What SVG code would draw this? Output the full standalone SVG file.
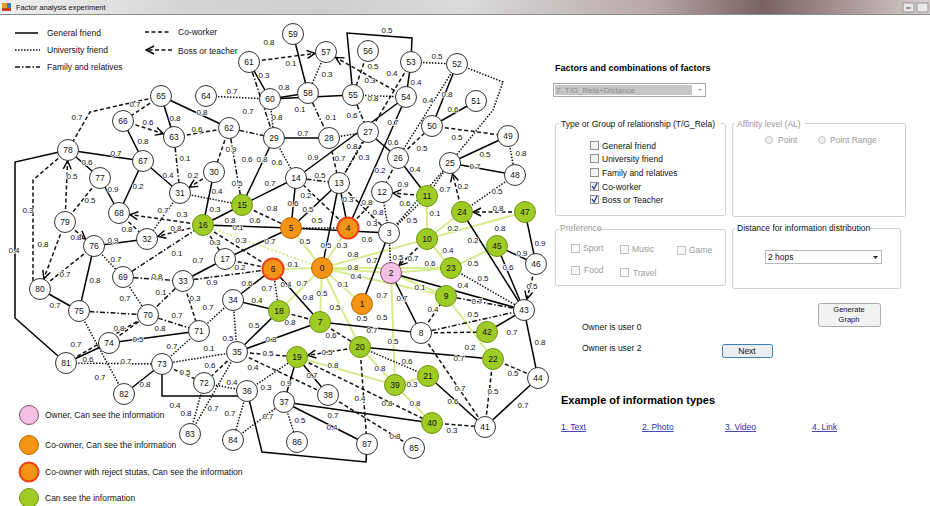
<svg xmlns="http://www.w3.org/2000/svg" width="930" height="506" viewBox="0 0 930 506">
<defs>
<linearGradient id="tb" x1="0" y1="0" x2="1" y2="0">
<stop offset="0" stop-color="#eeeeee"/><stop offset="0.08" stop-color="#e6e6e6"/><stop offset="0.2" stop-color="#d4d4d4"/><stop offset="0.35" stop-color="#cfcfcf"/><stop offset="0.5" stop-color="#dadada"/><stop offset="0.7" stop-color="#b9a8a8"/><stop offset="0.82" stop-color="#7a6262"/><stop offset="0.9" stop-color="#a58f8f"/><stop offset="1" stop-color="#d8d0d0"/>
</linearGradient>
<marker id="ar" viewBox="0 0 10 10" refX="9" refY="5" markerWidth="10" markerHeight="10" markerUnits="userSpaceOnUse" orient="auto">
<path d="M1,1 L9,5 L1,9" fill="none" stroke="#000" stroke-width="1.4" stroke-dasharray="none"/>
</marker>
<style>
.s{stroke:#000;stroke-width:1.5;fill:none}
.u{stroke:#111;stroke-width:1.5;fill:none;stroke-dasharray:1.5 1.5}
.f{stroke:#111;stroke-width:1.5;fill:none;stroke-dasharray:5 2 1.5 2}
.c{stroke:#111;stroke-width:1.5;fill:none;stroke-dasharray:4 2.5}
.b{stroke:#111;stroke-width:1.5;fill:none;stroke-dasharray:4 2.5;marker-end:url(#ar)}
.g{stroke:#d6ec8e;stroke-width:2;fill:none}
.gd{stroke:#d6ec8e;stroke-width:2;fill:none;stroke-dasharray:2 2}
.w{fill:#fff;stroke:#333;stroke-width:1}
.gr{fill:#9fcc24;stroke:#6e9414;stroke-width:1}
.o{fill:#f39414;stroke:#b86a00;stroke-width:1}
.r{fill:#f39414;stroke:#f0401a;stroke-width:2}
.p{fill:#f6c0e4;stroke:#8a4a72;stroke-width:1}
.nt{font-family:"Liberation Sans",Arial,sans-serif;font-size:8.5px;text-anchor:middle;fill:#111}
.el text{font-family:"Liberation Sans",Arial,sans-serif;font-size:8px;text-anchor:middle;fill:#111;stroke:#fff;stroke-width:1.5;paint-order:stroke}
.t{font-family:"Liberation Sans",Arial,sans-serif;font-size:8.5px;fill:#111}
.tb{font-family:"Liberation Sans",Arial,sans-serif;font-size:9px;font-weight:bold;fill:#000}
.gray{fill:#9a9a9a}
.box{fill:none;stroke:#d0d0d0;stroke-width:1}
.cb{fill:#f4f4f4;stroke:#8e8f8f;stroke-width:1}
.lk{font-family:"Liberation Sans",Arial,sans-serif;font-size:8.5px;fill:#2b2ba8;text-decoration:underline}
</style>
</defs>
<rect width="930" height="506" fill="#fff"/>
<g id="titlebar">
<rect x="0" y="0" width="930" height="14" fill="url(#tb)"/>
<line x1="0" y1="14.5" x2="930" y2="14.5" stroke="#8c8c8c"/>
<rect x="2" y="3" width="5" height="5" fill="#e8a020"/><rect x="7" y="3" width="4" height="5" fill="#3a78c8"/><rect x="2" y="8" width="9" height="3" fill="#d04020"/>
<text x="16" y="10" font-family="Liberation Sans,Arial,sans-serif" font-size="7.5" fill="#111">Factor analysis experiment</text>
<rect x="903" y="3" width="11" height="9" fill="#e8e8e8" stroke="#888" stroke-width="0.8"/>
<line x1="906" y1="8" x2="911" y2="8" stroke="#555"/>
<rect x="917" y="3" width="11" height="9" fill="#e8e8e8" stroke="#888" stroke-width="0.8"/>
</g>
<g id="legend-top">
<line x1="15" y1="33" x2="38" y2="33" class="s"/><text x="47" y="36" class="t">General friend</text>
<line x1="15" y1="50" x2="40" y2="50" class="u"/><text x="47" y="53" class="t">University friend</text>
<line x1="15" y1="67" x2="40" y2="67" class="f"/><text x="47" y="70" class="t">Family and relatives</text>
<line x1="145" y1="32" x2="170" y2="32" class="c"/><text x="178" y="35" class="t">Co-worker</text>
<line x1="172" y1="50" x2="146" y2="50" class="b"/><text x="178" y="54" class="t">Boss or teacher</text>
</g>
<g id="connectors">
<line class="g" x1="322" y1="268" x2="291" y2="228"/>
<line class="g" x1="322" y1="268" x2="348" y2="228"/>
<line class="g" x1="322" y1="268" x2="273" y2="269"/>
<line class="gd" x1="322" y1="268" x2="203" y2="225"/>
<line class="g" x1="322" y1="268" x2="279" y2="311"/>
<line class="g" x1="322" y1="268" x2="320" y2="322"/>
<line class="g" x1="322" y1="268" x2="360" y2="347"/>
<line class="g" x1="322" y1="268" x2="362" y2="304"/>
<line class="g" x1="322" y1="268" x2="391" y2="273"/>
<line class="g" x1="322" y1="268" x2="525" y2="212"/>
<line class="g" x1="322" y1="268" x2="446" y2="296"/>
<line class="g" x1="322" y1="268" x2="451" y2="268"/>
<line class="g" x1="391" y1="273" x2="395" y2="385"/>
<line class="g" x1="391" y1="273" x2="451" y2="268"/>
<line class="g" x1="391" y1="273" x2="446" y2="296"/>
<line class="g" x1="446" y1="296" x2="493" y2="359"/>
<line class="g" x1="427" y1="239" x2="427" y2="196"/>
<line class="g" x1="427" y1="239" x2="462" y2="212"/>
<line class="g" x1="427" y1="239" x2="451" y2="268"/>
<line class="g" x1="497" y1="246" x2="451" y2="268"/>
<line class="g" x1="360" y1="347" x2="395" y2="385"/>
<line class="g" x1="297" y1="357" x2="395" y2="385"/>
<line class="g" x1="395" y1="385" x2="428" y2="376"/>
<line class="g" x1="395" y1="385" x2="432" y2="423"/>
<line class="s" x1="293" y1="34" x2="308" y2="93"/>
<line class="s" x1="161" y1="96" x2="174" y2="137"/>
<line class="s" x1="161" y1="96" x2="229" y2="128"/>
<line class="s" x1="123" y1="121" x2="143" y2="161"/>
<line class="s" x1="68" y1="150" x2="143" y2="161"/>
<line class="s" x1="68" y1="150" x2="100" y2="178"/>
<line class="s" x1="100" y1="178" x2="119" y2="213"/>
<line class="s" x1="143" y1="161" x2="119" y2="213"/>
<line class="s" x1="143" y1="161" x2="180" y2="193"/>
<line class="s" x1="94" y1="246" x2="147" y2="239"/>
<line class="s" x1="94" y1="246" x2="79" y2="311"/>
<line class="s" x1="40" y1="289" x2="79" y2="311"/>
<line class="s" x1="66" y1="363" x2="109" y2="343"/>
<line class="s" x1="109" y1="343" x2="199" y2="331"/>
<line class="s" x1="162" y1="364" x2="124" y2="394"/>
<line class="s" x1="249" y1="62" x2="270" y2="99"/>
<line class="s" x1="270" y1="99" x2="308" y2="93"/>
<line class="s" x1="270" y1="99" x2="353" y2="95"/>
<line class="s" x1="274" y1="138" x2="329" y2="138"/>
<line class="s" x1="406" y1="97" x2="296" y2="178"/>
<line class="s" x1="406" y1="97" x2="348" y2="228"/>
<line class="s" x1="368" y1="132" x2="398" y2="158"/>
<line class="s" x1="432" y1="126" x2="457" y2="64"/>
<line class="s" x1="432" y1="126" x2="476" y2="101"/>
<line class="s" x1="508" y1="136" x2="450" y2="163"/>
<line class="s" x1="450" y1="163" x2="515" y2="175"/>
<line class="s" x1="427" y1="196" x2="398" y2="158"/>
<line class="s" x1="411" y1="62" x2="406" y2="97"/>
<line class="s" x1="214" y1="172" x2="203" y2="225"/>
<line class="s" x1="242" y1="205" x2="274" y2="138"/>
<line class="s" x1="242" y1="205" x2="296" y2="178"/>
<line class="s" x1="242" y1="205" x2="203" y2="225"/>
<line class="s" x1="203" y1="225" x2="291" y2="228"/>
<line class="s" x1="225" y1="259" x2="291" y2="228"/>
<line class="s" x1="233" y1="300" x2="273" y2="269"/>
<line class="s" x1="233" y1="300" x2="279" y2="311"/>
<line class="s" x1="273" y1="269" x2="320" y2="322"/>
<line class="s" x1="291" y1="228" x2="296" y2="178"/>
<line class="s" x1="291" y1="228" x2="339" y2="183"/>
<line class="s" x1="348" y1="228" x2="339" y2="183"/>
<line class="s" x1="322" y1="268" x2="339" y2="183"/>
<line class="s" x1="291" y1="228" x2="389" y2="233"/>
<line class="s" x1="389" y1="233" x2="362" y2="304"/>
<line class="s" x1="391" y1="273" x2="421" y2="333"/>
<line class="s" x1="391" y1="273" x2="524" y2="310"/>
<line class="s" x1="497" y1="246" x2="524" y2="310"/>
<line class="s" x1="462" y1="212" x2="524" y2="310"/>
<line class="s" x1="525" y1="212" x2="536" y2="264"/>
<line class="s" x1="497" y1="246" x2="536" y2="264"/>
<line class="s" x1="320" y1="322" x2="421" y2="333"/>
<line class="s" x1="360" y1="347" x2="493" y2="359"/>
<line class="s" x1="428" y1="376" x2="485" y2="427"/>
<line class="s" x1="485" y1="427" x2="538" y2="378"/>
<line class="s" x1="538" y1="378" x2="524" y2="310"/>
<line class="s" x1="487" y1="332" x2="524" y2="310"/>
<line class="s" x1="237" y1="352" x2="279" y2="311"/>
<line class="s" x1="237" y1="352" x2="320" y2="322"/>
<line class="s" x1="284" y1="402" x2="297" y2="357"/>
<line class="s" x1="284" y1="402" x2="367" y2="444"/>
<line class="s" x1="284" y1="402" x2="432" y2="423"/>
<line class="s" x1="297" y1="357" x2="328" y2="395"/>
<line class="s" x1="183" y1="281" x2="225" y2="259"/>
<polyline class="s" points="353,95 347,33 412,38 411,62"/>
<polyline class="s" points="68,150 15,162 15,318 66,363"/>
<polyline class="s" points="162,364 162,396 247,396"/>
<polyline class="s" points="247,391 262,452 366,462 367,444"/>
<line class="u" x1="326" y1="52" x2="308" y2="93"/>
<line class="u" x1="411" y1="62" x2="457" y2="64"/>
<line class="u" x1="353" y1="95" x2="406" y2="97"/>
<line class="u" x1="206" y1="96" x2="270" y2="99"/>
<line class="u" x1="270" y1="99" x2="274" y2="138"/>
<line class="u" x1="274" y1="138" x2="296" y2="178"/>
<line class="u" x1="180" y1="193" x2="242" y2="205"/>
<line class="u" x1="180" y1="193" x2="147" y2="239"/>
<line class="u" x1="94" y1="246" x2="123" y2="277"/>
<line class="u" x1="123" y1="277" x2="148" y2="315"/>
<line class="u" x1="79" y1="311" x2="124" y2="394"/>
<line class="u" x1="66" y1="363" x2="162" y2="364"/>
<line class="u" x1="162" y1="364" x2="199" y2="331"/>
<line class="u" x1="237" y1="352" x2="162" y2="364"/>
<line class="u" x1="237" y1="352" x2="233" y2="300"/>
<line class="u" x1="237" y1="352" x2="190" y2="434"/>
<line class="u" x1="204" y1="383" x2="247" y2="391"/>
<line class="u" x1="204" y1="383" x2="190" y2="434"/>
<line class="u" x1="247" y1="391" x2="233" y2="440"/>
<line class="u" x1="247" y1="391" x2="297" y2="357"/>
<line class="u" x1="233" y1="440" x2="284" y2="402"/>
<line class="u" x1="284" y1="402" x2="297" y2="442"/>
<line class="u" x1="360" y1="347" x2="428" y2="376"/>
<line class="u" x1="389" y1="233" x2="382" y2="192"/>
<line class="u" x1="389" y1="233" x2="427" y2="196"/>
<line class="u" x1="389" y1="233" x2="450" y2="163"/>
<line class="u" x1="427" y1="196" x2="450" y2="163"/>
<line class="u" x1="462" y1="212" x2="515" y2="175"/>
<line class="u" x1="508" y1="136" x2="515" y2="175"/>
<line class="u" x1="457" y1="64" x2="398" y2="158"/>
<polyline class="u" points="457,64 503,82 493,110 450,163"/>
<line class="u" x1="391" y1="273" x2="389" y2="233"/>
<line class="u" x1="451" y1="268" x2="524" y2="310"/>
<line class="u" x1="273" y1="269" x2="279" y2="311"/>
<line class="u" x1="291" y1="228" x2="348" y2="228"/>
<line class="u" x1="368" y1="132" x2="339" y2="183"/>
<line class="u" x1="329" y1="138" x2="368" y2="132"/>
<line class="u" x1="233" y1="300" x2="199" y2="331"/>
<line class="f" x1="249" y1="62" x2="274" y2="138"/>
<line class="f" x1="229" y1="128" x2="274" y2="138"/>
<line class="f" x1="353" y1="95" x2="368" y2="132"/>
<line class="f" x1="308" y1="93" x2="329" y2="138"/>
<line class="f" x1="174" y1="137" x2="180" y2="193"/>
<line class="f" x1="229" y1="128" x2="242" y2="205"/>
<line class="f" x1="123" y1="277" x2="203" y2="225"/>
<line class="f" x1="123" y1="277" x2="183" y2="281"/>
<line class="f" x1="183" y1="281" x2="148" y2="315"/>
<line class="f" x1="79" y1="311" x2="148" y2="315"/>
<line class="f" x1="148" y1="315" x2="199" y2="331"/>
<line class="f" x1="183" y1="281" x2="273" y2="269"/>
<line class="f" x1="296" y1="178" x2="339" y2="183"/>
<line class="f" x1="421" y1="333" x2="524" y2="310"/>
<line class="f" x1="446" y1="296" x2="524" y2="310"/>
<line class="f" x1="389" y1="233" x2="339" y2="183"/>
<polyline class="c" points="161,96 90,112 68,150"/>
<line class="c" x1="161" y1="96" x2="123" y2="121"/>
<line class="c" x1="174" y1="137" x2="229" y2="128"/>
<line class="c" x1="229" y1="128" x2="214" y2="172"/>
<line class="c" x1="368" y1="51" x2="353" y2="95"/>
<line class="c" x1="411" y1="62" x2="339" y2="183"/>
<polyline class="c" points="68,150 33,180 33,281 40,289"/>
<line class="c" x1="100" y1="178" x2="65" y2="222"/>
<line class="c" x1="119" y1="213" x2="147" y2="239"/>
<line class="c" x1="94" y1="246" x2="40" y2="289"/>
<line class="c" x1="66" y1="363" x2="148" y2="315"/>
<line class="c" x1="109" y1="343" x2="148" y2="315"/>
<line class="c" x1="162" y1="364" x2="204" y2="383"/>
<line class="c" x1="237" y1="352" x2="204" y2="383"/>
<line class="c" x1="237" y1="352" x2="297" y2="357"/>
<line class="c" x1="237" y1="352" x2="328" y2="395"/>
<line class="c" x1="297" y1="357" x2="432" y2="423"/>
<line class="c" x1="328" y1="395" x2="414" y2="448"/>
<line class="c" x1="360" y1="347" x2="367" y2="444"/>
<line class="c" x1="320" y1="322" x2="360" y2="347"/>
<line class="c" x1="421" y1="333" x2="485" y2="427"/>
<line class="c" x1="493" y1="359" x2="485" y2="427"/>
<line class="c" x1="432" y1="423" x2="485" y2="427"/>
<line class="c" x1="493" y1="359" x2="538" y2="378"/>
<line class="c" x1="421" y1="333" x2="487" y2="332"/>
<line class="c" x1="421" y1="333" x2="446" y2="296"/>
<line class="c" x1="242" y1="205" x2="291" y2="228"/>
<line class="c" x1="203" y1="225" x2="273" y2="269"/>
<line class="c" x1="203" y1="225" x2="225" y2="259"/>
<line class="c" x1="225" y1="259" x2="273" y2="269"/>
<line class="c" x1="279" y1="311" x2="320" y2="322"/>
<line class="c" x1="183" y1="281" x2="199" y2="331"/>
<line class="c" x1="398" y1="158" x2="432" y2="126"/>
<line class="c" x1="432" y1="126" x2="508" y2="136"/>
<line class="c" x1="348" y1="228" x2="296" y2="178"/>
<line class="c" x1="329" y1="138" x2="339" y2="183"/>
<line class="c" x1="382" y1="192" x2="348" y2="228"/>
<line class="c" x1="398" y1="158" x2="382" y2="192"/>
<line class="b" x1="249" y1="62" x2="315" y2="53.4"/>
<line class="b" x1="406" y1="97" x2="335.6" y2="57.4"/>
<line class="b" x1="123" y1="121" x2="163.5" y2="133.7"/>
<line class="b" x1="214" y1="172" x2="189.4" y2="187.2"/>
<line class="b" x1="65" y1="222" x2="67.6" y2="161"/>
<line class="b" x1="203" y1="225" x2="129.9" y2="214.6"/>
<line class="b" x1="203" y1="225" x2="157.7" y2="236.3"/>
<line class="b" x1="65" y1="222" x2="85.5" y2="239"/>
<line class="b" x1="65" y1="222" x2="43.8" y2="278.7"/>
<line class="b" x1="360" y1="347" x2="307.9" y2="355.3"/>
<line class="b" x1="427" y1="239" x2="399" y2="265.4"/>
<line class="b" x1="427" y1="196" x2="393" y2="193"/>
<line class="b" x1="462" y1="212" x2="452.6" y2="173.7"/>
<line class="b" x1="525" y1="212" x2="473" y2="212"/>
<line class="b" x1="536" y1="264" x2="526.8" y2="299.3"/>
</g>
<g id="edge-labels" class="el">
<text x="77" y="120">0.7</text><text x="135" y="107">0.7</text><text x="175" y="121">0.8</text><text x="148" y="125">0.6</text><text x="143" y="144">0.8</text><text x="116" y="156">0.7</text><text x="185" y="161">0.1</text><text x="202" y="115">0.8</text><text x="197" y="132">0.6</text><text x="231" y="152">0.9</text><text x="247" y="162">0.6</text><text x="262" y="162">0.8</text><text x="277" y="165">0.6</text>
<text x="269" y="45">0.8</text><text x="291" y="66">0.1</text><text x="327" y="77">0.3</text><text x="264" y="78">0.3</text><text x="284" y="90">0.8</text><text x="300" y="112">0.1</text><text x="232" y="94">0.7</text><text x="248" y="114">0.7</text><text x="277" y="120">0.8</text><text x="303" y="136">0.7</text><text x="331" y="120">0.1</text><text x="352" y="118">0.6</text>
<text x="387" y="33">0.5</text><text x="373" y="69">0.5</text><text x="370" y="83">0.3</text><text x="392" y="76">0.4</text><text x="416" y="85">0.4</text><text x="437" y="59">0.5</text><text x="373" y="101">0.8</text><text x="428" y="103">0.4</text><text x="447" y="97">0.8</text><text x="453" y="112">0.6</text><text x="393" y="125">0.7</text><text x="393" y="145">0.6</text><text x="422" y="151">0.5</text><text x="457" y="140">0.5</text><text x="485" y="157">0.5</text><text x="521" y="156">0.8</text><text x="475" y="169">0.7</text>
<text x="364" y="160">0.3</text><text x="352" y="149">0.8</text><text x="340" y="161">0.7</text><text x="313" y="160">0.9</text><text x="380" y="173">0.2</text><text x="415" y="172">0.4</text>
<text x="87" y="165">0.6</text><text x="72" y="179">0.5</text><text x="90" y="203">0.5</text><text x="113" y="192">0.9</text><text x="138" y="189">0.2</text><text x="168" y="178">0.4</text><text x="163" y="213">0.7</text><text x="182" y="217">0.3</text><text x="176" y="231">0.8</text><text x="127" y="232">0.8</text><text x="28" y="213">0.3</text><text x="76" y="240">0.8</text><text x="43" y="247">0.8</text><text x="113" y="243">0.9</text><text x="14" y="253">0.4</text><text x="65" y="277">0.7</text><text x="116" y="262">0.7</text><text x="177" y="256">0.1</text><text x="95" y="283">0.8</text><text x="157" y="279">0.8</text><text x="125" y="301">0.7</text><text x="161" y="295">0.1</text><text x="55" y="308">0.7</text><text x="177" y="318">0.7</text><text x="160" y="331">0.8</text><text x="119" y="331">0.8</text>
<text x="76" y="347">0.7</text><text x="138" y="342">0.5</text><text x="88" y="362">0.6</text><text x="126" y="364">0.7</text><text x="100" y="380">0.7</text><text x="145" y="387">0.8</text><text x="172" y="349">0.7</text><text x="185" y="375">0.5</text><text x="175" y="408">0.4</text>
<text x="209" y="351">0.1</text><text x="210" y="368">0.6</text><text x="228" y="341">0.5</text><text x="254" y="328">0.5</text><text x="271" y="342">0.8</text><text x="268" y="356">0.5</text><text x="253" y="370">0.4</text><text x="213" y="411">0.7</text><text x="232" y="385">0.4</text><text x="186" y="416">0.8</text><text x="230" y="416">0.7</text><text x="266" y="390">0.3</text><text x="268" y="419">0.7</text><text x="286" y="386">0.9</text><text x="300" y="423">0.5</text><text x="332" y="430">0.4</text><text x="333" y="418">0.7</text><text x="312" y="378">0.7</text><text x="327" y="355">0.5</text><text x="333" y="368">0.8</text><text x="360" y="401">0.4</text><text x="331" y="338">0.6</text>
<text x="372" y="333">0.7</text><text x="393" y="344">0.5</text><text x="512" y="335">0.7</text><text x="540" y="345">0.8</text><text x="470" y="350">0.2</text><text x="459" y="361">0.7</text><text x="407" y="364">0.6</text><text x="380" y="371">0.8</text><text x="412" y="387">0.3</text><text x="513" y="376">0.5</text><text x="387" y="406">0.8</text><text x="415" y="406">0.8</text><text x="453" y="404">0.6</text><text x="460" y="391">0.7</text><text x="493" y="394">0.5</text><text x="523" y="408">0.7</text><text x="452" y="433">0.3</text><text x="395" y="439">0.8</text>
<text x="403" y="187">0.9</text><text x="445" y="192">0.7</text><text x="405" y="206">0.6</text><text x="378" y="215">0.8</text><text x="412" y="223">0.5</text><text x="435" y="216">0.1</text><text x="463" y="189">0.2</text><text x="497" y="194">0.5</text><text x="498" y="211">0.8</text><text x="372" y="226">0.3</text><text x="367" y="242">0.6</text><text x="453" y="231">0.2</text><text x="500" y="231">0.8</text><text x="540" y="246">0.9</text><text x="448" y="253">0.4</text><text x="522" y="256">0.9</text><text x="473" y="266">0.5</text><text x="508" y="270">0.6</text><text x="473" y="243">0.2</text><text x="398" y="260">0.5</text><text x="413" y="261">0.7</text><text x="430" y="266">0.6</text><text x="372" y="263">0.7</text><text x="483" y="281">0.5</text><text x="463" y="288">0.4</text><text x="420" y="290">0.1</text><text x="532" y="289">0.5</text><text x="382" y="298">0.7</text><text x="402" y="301">0.7</text><text x="433" y="312">0.4</text><text x="477" y="304">0.7</text><text x="473" y="317">0.5</text><text x="362" y="321">0.5</text><text x="382" y="320">0.5</text><text x="367" y="205">0.8</text>
<text x="193" y="178">0.2</text><text x="217" y="194">0.4</text><text x="237" y="186">0.5</text><text x="270" y="186">0.7</text><text x="320" y="178">0.5</text><text x="306" y="198">0.2</text><text x="215" y="212">0.3</text><text x="230" y="223">0.8</text><text x="272" y="211">0.8</text><text x="255" y="223">0.6</text><text x="238" y="230">0.1</text><text x="293" y="206">0.6</text><text x="308" y="212">0.5</text><text x="348" y="202">0.3</text><text x="317" y="223">0.5</text><text x="215" y="245">0.3</text><text x="241" y="243">0.3</text><text x="270" y="244">0.7</text><text x="305" y="244">0.5</text><text x="326" y="248">0.5</text><text x="342" y="248">0.3</text><text x="198" y="263">0.7</text><text x="240" y="270">0.2</text><text x="293" y="267">0.1</text><text x="353" y="257">0.8</text><text x="353" y="270">0.8</text><text x="356" y="279">0.4</text><text x="343" y="287">0.1</text><text x="212" y="285">0.9</text><text x="247" y="286">0.6</text><text x="267" y="291">0.7</text><text x="286" y="287">0.4</text><text x="302" y="286">0.7</text><text x="322" y="296">0.5</text><text x="308" y="300">0.8</text><text x="335" y="310">0.5</text><text x="195" y="301">0.3</text><text x="208" y="310">0.7</text><text x="257" y="303">0.4</text><text x="290" y="325">0.8</text>
</g>
<g id="nodes">
<g id="n0"><circle cx="322" cy="268" r="10.5" class="o"/><text x="322" y="271" class="nt">0</text></g>
<g id="n1"><circle cx="362" cy="304" r="10.5" class="o"/><text x="362" y="307" class="nt">1</text></g>
<g id="n2"><circle cx="391" cy="273" r="10.5" class="p"/><text x="391" y="276" class="nt">2</text></g>
<g id="n3"><circle cx="389" cy="233" r="10.5" class="w"/><text x="389" y="236" class="nt">3</text></g>
<g id="n4"><circle cx="348" cy="228" r="10.5" class="r"/><text x="348" y="231" class="nt">4</text></g>
<g id="n5"><circle cx="291" cy="228" r="10.5" class="o"/><text x="291" y="231" class="nt">5</text></g>
<g id="n6"><circle cx="273" cy="269" r="10.5" class="r"/><text x="273" y="272" class="nt">6</text></g>
<g id="n7"><circle cx="320" cy="322" r="10.5" class="gr"/><text x="320" y="325" class="nt">7</text></g>
<g id="n8"><circle cx="421" cy="333" r="10.5" class="w"/><text x="421" y="336" class="nt">8</text></g>
<g id="n9"><circle cx="446" cy="296" r="10.5" class="gr"/><text x="446" y="299" class="nt">9</text></g>
<g id="n10"><circle cx="427" cy="239" r="10.5" class="gr"/><text x="427" y="242" class="nt">10</text></g>
<g id="n11"><circle cx="427" cy="196" r="10.5" class="gr"/><text x="427" y="199" class="nt">11</text></g>
<g id="n12"><circle cx="382" cy="192" r="10.5" class="w"/><text x="382" y="195" class="nt">12</text></g>
<g id="n13"><circle cx="339" cy="183" r="10.5" class="w"/><text x="339" y="186" class="nt">13</text></g>
<g id="n14"><circle cx="296" cy="178" r="10.5" class="w"/><text x="296" y="181" class="nt">14</text></g>
<g id="n15"><circle cx="242" cy="205" r="10.5" class="gr"/><text x="242" y="208" class="nt">15</text></g>
<g id="n16"><circle cx="203" cy="225" r="10.5" class="gr"/><text x="203" y="228" class="nt">16</text></g>
<g id="n17"><circle cx="225" cy="259" r="10.5" class="w"/><text x="225" y="262" class="nt">17</text></g>
<g id="n18"><circle cx="279" cy="311" r="10.5" class="gr"/><text x="279" y="314" class="nt">18</text></g>
<g id="n19"><circle cx="297" cy="357" r="10.5" class="gr"/><text x="297" y="360" class="nt">19</text></g>
<g id="n20"><circle cx="360" cy="347" r="10.5" class="gr"/><text x="360" y="350" class="nt">20</text></g>
<g id="n21"><circle cx="428" cy="376" r="10.5" class="gr"/><text x="428" y="379" class="nt">21</text></g>
<g id="n22"><circle cx="493" cy="359" r="10.5" class="gr"/><text x="493" y="362" class="nt">22</text></g>
<g id="n23"><circle cx="451" cy="268" r="10.5" class="gr"/><text x="451" y="271" class="nt">23</text></g>
<g id="n24"><circle cx="462" cy="212" r="10.5" class="gr"/><text x="462" y="215" class="nt">24</text></g>
<g id="n25"><circle cx="450" cy="163" r="10.5" class="w"/><text x="450" y="166" class="nt">25</text></g>
<g id="n26"><circle cx="398" cy="158" r="10.5" class="w"/><text x="398" y="161" class="nt">26</text></g>
<g id="n27"><circle cx="368" cy="132" r="10.5" class="w"/><text x="368" y="135" class="nt">27</text></g>
<g id="n28"><circle cx="329" cy="138" r="10.5" class="w"/><text x="329" y="141" class="nt">28</text></g>
<g id="n29"><circle cx="274" cy="138" r="10.5" class="w"/><text x="274" y="141" class="nt">29</text></g>
<g id="n30"><circle cx="214" cy="172" r="10.5" class="w"/><text x="214" y="175" class="nt">30</text></g>
<g id="n31"><circle cx="180" cy="193" r="10.5" class="w"/><text x="180" y="196" class="nt">31</text></g>
<g id="n32"><circle cx="147" cy="239" r="10.5" class="w"/><text x="147" y="242" class="nt">32</text></g>
<g id="n33"><circle cx="183" cy="281" r="10.5" class="w"/><text x="183" y="284" class="nt">33</text></g>
<g id="n34"><circle cx="233" cy="300" r="10.5" class="w"/><text x="233" y="303" class="nt">34</text></g>
<g id="n35"><circle cx="237" cy="352" r="10.5" class="w"/><text x="237" y="355" class="nt">35</text></g>
<g id="n36"><circle cx="247" cy="391" r="10.5" class="w"/><text x="247" y="394" class="nt">36</text></g>
<g id="n37"><circle cx="284" cy="402" r="10.5" class="w"/><text x="284" y="405" class="nt">37</text></g>
<g id="n38"><circle cx="328" cy="395" r="10.5" class="w"/><text x="328" y="398" class="nt">38</text></g>
<g id="n39"><circle cx="395" cy="385" r="10.5" class="gr"/><text x="395" y="388" class="nt">39</text></g>
<g id="n40"><circle cx="432" cy="423" r="10.5" class="gr"/><text x="432" y="426" class="nt">40</text></g>
<g id="n41"><circle cx="485" cy="427" r="10.5" class="w"/><text x="485" y="430" class="nt">41</text></g>
<g id="n42"><circle cx="487" cy="332" r="10.5" class="gr"/><text x="487" y="335" class="nt">42</text></g>
<g id="n43"><circle cx="524" cy="310" r="10.5" class="w"/><text x="524" y="313" class="nt">43</text></g>
<g id="n44"><circle cx="538" cy="378" r="10.5" class="w"/><text x="538" y="381" class="nt">44</text></g>
<g id="n45"><circle cx="497" cy="246" r="10.5" class="gr"/><text x="497" y="249" class="nt">45</text></g>
<g id="n46"><circle cx="536" cy="264" r="10.5" class="w"/><text x="536" y="267" class="nt">46</text></g>
<g id="n47"><circle cx="525" cy="212" r="10.5" class="gr"/><text x="525" y="215" class="nt">47</text></g>
<g id="n48"><circle cx="515" cy="175" r="10.5" class="w"/><text x="515" y="178" class="nt">48</text></g>
<g id="n49"><circle cx="508" cy="136" r="10.5" class="w"/><text x="508" y="139" class="nt">49</text></g>
<g id="n50"><circle cx="432" cy="126" r="10.5" class="w"/><text x="432" y="129" class="nt">50</text></g>
<g id="n51"><circle cx="476" cy="101" r="10.5" class="w"/><text x="476" y="104" class="nt">51</text></g>
<g id="n52"><circle cx="457" cy="64" r="10.5" class="w"/><text x="457" y="67" class="nt">52</text></g>
<g id="n53"><circle cx="411" cy="62" r="10.5" class="w"/><text x="411" y="65" class="nt">53</text></g>
<g id="n54"><circle cx="406" cy="97" r="10.5" class="w"/><text x="406" y="100" class="nt">54</text></g>
<g id="n55"><circle cx="353" cy="95" r="10.5" class="w"/><text x="353" y="98" class="nt">55</text></g>
<g id="n56"><circle cx="368" cy="51" r="10.5" class="w"/><text x="368" y="54" class="nt">56</text></g>
<g id="n57"><circle cx="326" cy="52" r="10.5" class="w"/><text x="326" y="55" class="nt">57</text></g>
<g id="n58"><circle cx="308" cy="93" r="10.5" class="w"/><text x="308" y="96" class="nt">58</text></g>
<g id="n59"><circle cx="293" cy="34" r="10.5" class="w"/><text x="293" y="37" class="nt">59</text></g>
<g id="n60"><circle cx="270" cy="99" r="10.5" class="w"/><text x="270" y="102" class="nt">60</text></g>
<g id="n61"><circle cx="249" cy="62" r="10.5" class="w"/><text x="249" y="65" class="nt">61</text></g>
<g id="n62"><circle cx="229" cy="128" r="10.5" class="w"/><text x="229" y="131" class="nt">62</text></g>
<g id="n63"><circle cx="174" cy="137" r="10.5" class="w"/><text x="174" y="140" class="nt">63</text></g>
<g id="n64"><circle cx="206" cy="96" r="10.5" class="w"/><text x="206" y="99" class="nt">64</text></g>
<g id="n65"><circle cx="161" cy="96" r="10.5" class="w"/><text x="161" y="99" class="nt">65</text></g>
<g id="n66"><circle cx="123" cy="121" r="10.5" class="w"/><text x="123" y="124" class="nt">66</text></g>
<g id="n67"><circle cx="143" cy="161" r="10.5" class="w"/><text x="143" y="164" class="nt">67</text></g>
<g id="n68"><circle cx="119" cy="213" r="10.5" class="w"/><text x="119" y="216" class="nt">68</text></g>
<g id="n69"><circle cx="123" cy="277" r="10.5" class="w"/><text x="123" y="280" class="nt">69</text></g>
<g id="n70"><circle cx="148" cy="315" r="10.5" class="w"/><text x="148" y="318" class="nt">70</text></g>
<g id="n71"><circle cx="199" cy="331" r="10.5" class="w"/><text x="199" y="334" class="nt">71</text></g>
<g id="n72"><circle cx="204" cy="383" r="10.5" class="w"/><text x="204" y="386" class="nt">72</text></g>
<g id="n73"><circle cx="162" cy="364" r="10.5" class="w"/><text x="162" y="367" class="nt">73</text></g>
<g id="n74"><circle cx="109" cy="343" r="10.5" class="w"/><text x="109" y="346" class="nt">74</text></g>
<g id="n75"><circle cx="79" cy="311" r="10.5" class="w"/><text x="79" y="314" class="nt">75</text></g>
<g id="n76"><circle cx="94" cy="246" r="10.5" class="w"/><text x="94" y="249" class="nt">76</text></g>
<g id="n77"><circle cx="100" cy="178" r="10.5" class="w"/><text x="100" y="181" class="nt">77</text></g>
<g id="n78"><circle cx="68" cy="150" r="10.5" class="w"/><text x="68" y="153" class="nt">78</text></g>
<g id="n79"><circle cx="65" cy="222" r="10.5" class="w"/><text x="65" y="225" class="nt">79</text></g>
<g id="n80"><circle cx="40" cy="289" r="10.5" class="w"/><text x="40" y="292" class="nt">80</text></g>
<g id="n81"><circle cx="66" cy="363" r="10.5" class="w"/><text x="66" y="366" class="nt">81</text></g>
<g id="n82"><circle cx="124" cy="394" r="10.5" class="w"/><text x="124" y="397" class="nt">82</text></g>
<g id="n83"><circle cx="190" cy="434" r="10.5" class="w"/><text x="190" y="437" class="nt">83</text></g>
<g id="n84"><circle cx="233" cy="440" r="10.5" class="w"/><text x="233" y="443" class="nt">84</text></g>
<g id="n85"><circle cx="414" cy="448" r="10.5" class="w"/><text x="414" y="451" class="nt">85</text></g>
<g id="n86"><circle cx="297" cy="442" r="10.5" class="w"/><text x="297" y="445" class="nt">86</text></g>
<g id="n87"><circle cx="367" cy="444" r="10.5" class="w"/><text x="367" y="447" class="nt">87</text></g>
</g>
<g id="legend-bottom">
<circle cx="29" cy="415" r="9.5" class="p"/><text x="45" y="418" class="t">Owner, Can see the information</text>
<circle cx="29" cy="445" r="9.5" class="o"/><text x="45" y="448" class="t">Co-owner, Can see the information</text>
<circle cx="29" cy="472" r="9.5" class="r"/><text x="45" y="475" class="t">Co-owner with reject stutas,  Can see the information</text>
<circle cx="29" cy="498" r="9.5" class="gr"/><text x="45" y="501" class="t">Can see the information</text>
</g>
<g id="panel">
<text x="555" y="71" class="tb">Factors and combinations of factors</text>
<rect x="553.5" y="83.5" width="152" height="13" fill="#fff" stroke="#a8a8a8"/>
<rect x="555" y="85" width="137" height="10" fill="#c6c6c6"/>
<text x="556" y="93" font-family="Liberation Sans,Arial,sans-serif" font-size="8" fill="#8a8a8a">7. T/G_Rela+Distance</text>
<path d="M698,89 L702,89 L700,91 Z" fill="#aaa"/>
<rect x="555.5" y="123.5" width="170" height="92" rx="2" class="box"/>
<rect x="559" y="119" width="162" height="9" fill="#fff"/>
<text x="561" y="127" class="t">Type or Group of relationship (T/G_Rela)</text>
<rect x="590.5" y="141.5" width="8" height="8" class="cb"/><text x="602" y="149" class="t">General friend</text>
<rect x="590.5" y="154.5" width="8" height="8" class="cb"/><text x="602" y="162" class="t">University friend</text>
<rect x="590.5" y="168.5" width="8" height="8" class="cb"/><text x="602" y="176" class="t">Family and relatives</text>
<rect x="590.5" y="182.5" width="8" height="8" class="cb"/><path d="M592,186 L594,189 L597,183" fill="none" stroke="#2a3a9a" stroke-width="1.3"/><text x="602" y="190" class="t">Co-worker</text>
<rect x="590.5" y="195.5" width="8" height="8" class="cb"/><path d="M592,199 L594,202 L597,196" fill="none" stroke="#2a3a9a" stroke-width="1.3"/><text x="602" y="203" class="t">Boss or Teacher</text>
<rect x="732.5" y="123.5" width="173" height="93" rx="2" class="box"/>
<rect x="735" y="119" width="70" height="9" fill="#fff"/>
<text x="737" y="127" class="t gray">Affinity level (AL)</text>
<circle cx="769" cy="140" r="3.5" fill="#eee" stroke="#c4c4c4"/><text x="778" y="143" class="t gray">Point</text>
<circle cx="822" cy="140" r="3.5" fill="#eee" stroke="#c4c4c4"/><text x="830" y="143" class="t gray">Point Range</text>
<rect x="555.5" y="229.5" width="170" height="56" rx="2" class="box"/>
<rect x="559" y="224" width="40" height="9" fill="#fff"/>
<text x="560" y="231" class="t gray">Preference</text>
<rect x="571.5" y="244.5" width="8" height="8" fill="#fafafa" stroke="#c0c0c0"/><text x="583" y="251" class="t gray">Sport</text>
<rect x="620.5" y="245.5" width="8" height="8" fill="#fafafa" stroke="#c0c0c0"/><text x="632" y="252" class="t gray">Music</text>
<rect x="677.5" y="246.5" width="8" height="8" fill="#fafafa" stroke="#c0c0c0"/><text x="689" y="253" class="t gray">Game</text>
<rect x="571.5" y="266.5" width="8" height="8" fill="#fafafa" stroke="#c0c0c0"/><text x="584" y="273" class="t gray">Food</text>
<rect x="620.5" y="268.5" width="8" height="8" fill="#fafafa" stroke="#c0c0c0"/><text x="633" y="276" class="t gray">Travel</text>
<rect x="732.5" y="228.5" width="168" height="60" rx="2" class="box"/>
<rect x="735" y="223" width="135" height="9" fill="#fff"/>
<text x="737" y="231" class="t">Distance for information distribution</text>
<rect x="765.5" y="250.5" width="116" height="13" fill="#fff" stroke="#b8b8b8"/>
<text x="768" y="260" class="t">2 hops</text>
<path d="M873,256 L878,256 L875.5,259 Z" fill="#222"/>
<rect x="818.5" y="303.5" width="62" height="23" rx="2" fill="#f2f2f2" stroke="#acacac"/>
<text x="849" y="312" font-family="Liberation Sans,Arial,sans-serif" font-size="7.5" fill="#111" text-anchor="middle">Generate</text>
<text x="849" y="322" font-family="Liberation Sans,Arial,sans-serif" font-size="7.5" fill="#111" text-anchor="middle">Graph</text>
<text x="582" y="330" class="t">Owner is user 0</text>
<text x="582" y="351" class="t">Owner is user 2</text>
<rect x="722.5" y="344.5" width="50" height="13" rx="2" fill="#e9eef3" stroke="#3c7fb1"/>
<text x="747" y="354" class="t" text-anchor="middle">Next</text>
<text x="561" y="404" font-family="Liberation Sans,Arial,sans-serif" font-size="11" font-weight="bold" fill="#000">Example of information types</text>
<text x="561" y="430" class="lk">1. Text</text>
<text x="642" y="430" class="lk">2. Photo</text>
<text x="725" y="430" class="lk">3. Video</text>
<text x="812" y="430" class="lk">4. Link</text>
</g>
</svg>
